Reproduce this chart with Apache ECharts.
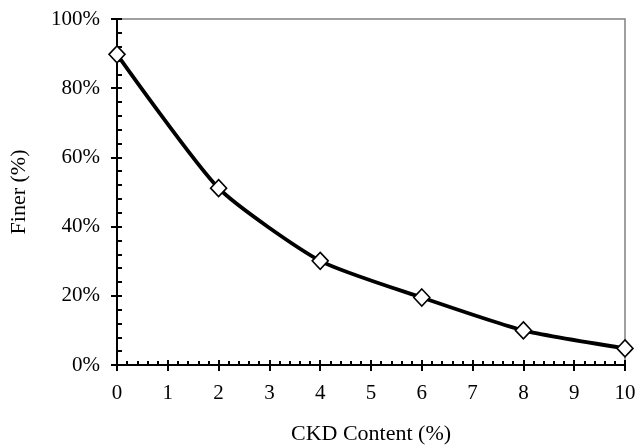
<!DOCTYPE html>
<html>
<head>
<meta charset="utf-8">
<script src="https://cdn.jsdelivr.net/npm/echarts@6/dist/echarts.min.js"></script>
<style>
  html, body { margin: 0; padding: 0; background: #fff; }
  #chart { width: 637px; height: 446px; }
</style>
</head>
<body>
<div id="chart"></div>
<script>
// CKD content (%) vs. fraction finer (%)
const ckdContent = [0, 2, 4, 6, 8, 10];
const finerPct = [89.8, 51.1, 30.1, 19.5, 10.0, 4.8];
const xTitle = 'CKD Content (%)';
const yTitle = 'Finer (%)';

const font = '"Liberation Serif", "Times New Roman", serif';
const points = ckdContent.map((x, i) => [x, finerPct[i]]);

const baseX = { type: 'value', min: 0, max: 10, interval: 1, position: 'bottom' };
const baseY = { type: 'value', min: 0, max: 100, interval: 20, position: 'left' };

const chart = echarts.init(document.getElementById('chart'));
chart.setOption({
  animation: false,
  grid: {
    left: 117, right: 12, top: 19, bottom: 81,
    outerBoundsMode: 'none',
    containLabel: false,
    show: true, borderColor: '#808080', borderWidth: 1.5, backgroundColor: 'transparent'
  },
  xAxis: [
    Object.assign({}, baseX, {
      name: xTitle, nameLocation: 'middle', nameGap: 58,
      nameTextStyle: { fontFamily: font, fontSize: 22, color: '#000' },
      axisLine: { lineStyle: { color: '#000', width: 2 } },
      axisTick: { show: true, inside: false, length: 6, lineStyle: { color: '#000', width: 2 } },
      axisLabel: { fontFamily: font, fontSize: 21, color: '#000', margin: 18 },
      splitLine: { show: false }
    }),
    // inner ticks: major and minor, pointing into the plot
    Object.assign({}, baseX, {
      axisLine: { show: false },
      axisTick: { show: true, inside: true, length: 5, lineStyle: { color: '#000', width: 2 } },
      minorTick: { show: true, splitNumber: 5, length: 4, lineStyle: { color: '#000', width: 2 } },
      axisLabel: { show: false },
      splitLine: { show: false }
    })
  ],
  yAxis: [
    Object.assign({}, baseY, {
      name: yTitle, nameLocation: 'middle', nameGap: 87,
      nameTextStyle: { fontFamily: font, fontSize: 22, color: '#000' },
      axisLine: { lineStyle: { color: '#000', width: 2 } },
      axisTick: { show: true, inside: false, length: 6, lineStyle: { color: '#000', width: 2 } },
      axisLabel: { fontFamily: font, fontSize: 21, color: '#000', margin: 17, formatter: '{value}%' },
      splitLine: { show: false }
    }),
    Object.assign({}, baseY, {
      axisLine: { show: false },
      axisTick: { show: true, inside: true, length: 5, lineStyle: { color: '#000', width: 2 } },
      minorTick: { show: true, splitNumber: 5, length: 5, lineStyle: { color: '#000', width: 2 } },
      axisLabel: { show: false },
      splitLine: { show: false }
    })
  ],
  series: [{
    type: 'line',
    xAxisIndex: 0,
    yAxisIndex: 0,
    data: points,
    smooth: 0.2,
    symbol: 'diamond',
    symbolSize: [16, 17],
    lineStyle: { color: '#000', width: 3.8 },
    itemStyle: { color: '#fff', borderColor: '#000', borderWidth: 1.6 },
    z: 5
  }]
});
</script>
</body>
</html>
